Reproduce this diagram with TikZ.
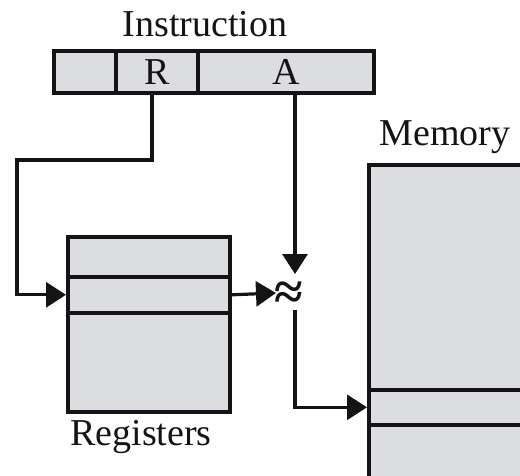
\documentclass[tikz,border=0pt]{standalone}
\usepackage{fontspec}
\setmainfont{Liberation Serif}
\usetikzlibrary{arrows.meta}
\definecolor{cellfill}{RGB}{220,221,224}
\definecolor{inkc}{RGB}{20,20,20}
\begin{document}
\begin{tikzpicture}[x=1pt,y=-1pt,
  cell/.style={draw=inkc,fill=cellfill,line width=3.6pt,inner sep=0pt,anchor=north west},
  lbl/.style={font=\fontsize{38}{40}\selectfont,text=inkc,inner sep=0pt},
  arr/.style={draw=inkc,line width=3.2pt,-{Triangle[length=20pt,width=25pt]}},
  ln/.style={draw=inkc,line width=3.2pt}]
\useasboundingbox (0,0) rectangle (520,475);
\clip (0,0) rectangle (520,475);
% instruction
\node[cell,minimum width=62pt,minimum height=42pt] (f0) at (52,49) {};
\node[cell,minimum width=82pt,minimum height=42pt,lbl,anchor=north west] (f1) at (114,49) {R};
\node[cell,minimum width=176pt,minimum height=42pt,lbl,anchor=north west] (f2) at (196,49) {A};
\node[lbl] (ti) at (205,24) {Instruction};
% registers
\node[cell,minimum width=162pt,minimum height=40pt] (r0) at (66,235) {};
\node[cell,minimum width=162pt,minimum height=36pt] (r1) at (66,275) {};
\node[cell,minimum width=162pt,minimum height=99pt] (r2) at (66,311) {};
\node[lbl] (tr) at (141,437) {Registers};
% memory
\node[cell,minimum width=170pt,minimum height=225pt] (m0) at (367,163) {};
\node[cell,minimum width=170pt,minimum height=35pt] (m1) at (367,388) {};
\node[cell,minimum width=170pt,minimum height=70pt] (m2) at (367,423) {};
\node[lbl] (tm) at (445,137) {Memory};
% approx symbol
\node[lbl,font=\fontsize{52}{52}\selectfont\bfseries] (ap) at (289,296) {≈};
\coordinate (tipA) at (295,274);
\coordinate (tipB) at (276,293);
\coordinate (startC) at (295,310);
\coordinate (k1) at (17,160);
% connectors
\draw[arr] (f1.south -| 152,0) |- (k1) |- (r1.west);
\draw[arr] (f2.south -| tipA) -- (tipA);
\draw[arr] (r1.east) -- (tipB);
\draw[arr] (startC) |- (m1.west);
\end{tikzpicture}
\end{document}
